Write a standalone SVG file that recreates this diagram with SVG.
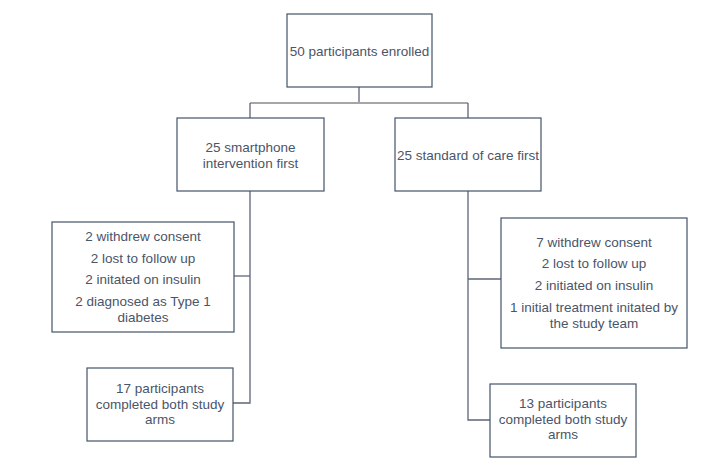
<svg xmlns="http://www.w3.org/2000/svg" width="719" height="473" viewBox="0 0 719 473">
<style>
.box{fill:#fff;stroke:#44546A;stroke-width:1.2}
.t{font-family:"Liberation Sans",Arial,sans-serif;font-size:13.5px;fill:#4A5568;text-anchor:middle;dominant-baseline:central}
.c{fill:none;stroke:#5B6577;stroke-width:1.3}
.h{fill:none;stroke:#A6A6A6;stroke-width:2.2}
</style>
<rect width="719" height="473" fill="#fff"/>
<g id="connectors">
<line class="c" x1="359" y1="87" x2="359" y2="103"/>
<line class="h" x1="250" y1="103" x2="468" y2="103"/>
<line class="c" x1="250" y1="103" x2="250" y2="118"/>
<line class="c" x1="468" y1="103" x2="468" y2="118"/>
<polyline class="c" points="250,191 250,403 233,403"/>
<line class="c" x1="234" y1="276" x2="250" y2="276"/>
<polyline class="c" points="468,191 468,420 490,420"/>
<line class="c" x1="468" y1="279" x2="501" y2="279"/>
</g>
<g id="enrolled">
<rect class="box" x="287" y="14" width="145" height="73"/>
<text class="t" x="359.5" y="51">50 participants enrolled</text>
</g>
<g id="smartphone">
<rect class="box" x="177" y="118" width="147" height="73"/>
<text class="t" x="250.5" y="147">25 smartphone</text>
<text class="t" x="250.5" y="163">intervention first</text>
</g>
<g id="standard">
<rect class="box" x="395" y="118" width="146" height="73"/>
<text class="t" x="468" y="155">25 standard of care first</text>
</g>
<g id="excluded-left">
<rect class="box" x="52" y="222" width="182" height="110"/>
<text class="t" x="143" y="236">2 withdrew consent</text>
<text class="t" x="143" y="258">2 lost to follow up</text>
<text class="t" x="143" y="279">2 initated on insulin</text>
<text class="t" x="143" y="301">2 diagnosed as Type 1</text>
<text class="t" x="143" y="317">diabetes</text>
</g>
<g id="excluded-right">
<rect class="box" x="501" y="218" width="186" height="130"/>
<text class="t" x="594" y="242">7 withdrew consent</text>
<text class="t" x="594" y="263">2 lost to follow up</text>
<text class="t" x="594" y="285">2 initiated on insulin</text>
<text class="t" x="594" y="307">1 initial treatment initated by</text>
<text class="t" x="594" y="323">the study team</text>
</g>
<g id="completed-left">
<rect class="box" x="87" y="368" width="146" height="73"/>
<text class="t" x="160" y="388">17 participants</text>
<text class="t" x="160" y="404">completed both study</text>
<text class="t" x="160" y="419">arms</text>
</g>
<g id="completed-right">
<rect class="box" x="490" y="384" width="146" height="73"/>
<text class="t" x="563" y="403">13 participants</text>
<text class="t" x="563" y="419">completed both study</text>
<text class="t" x="563" y="434">arms</text>
</g>
</svg>
